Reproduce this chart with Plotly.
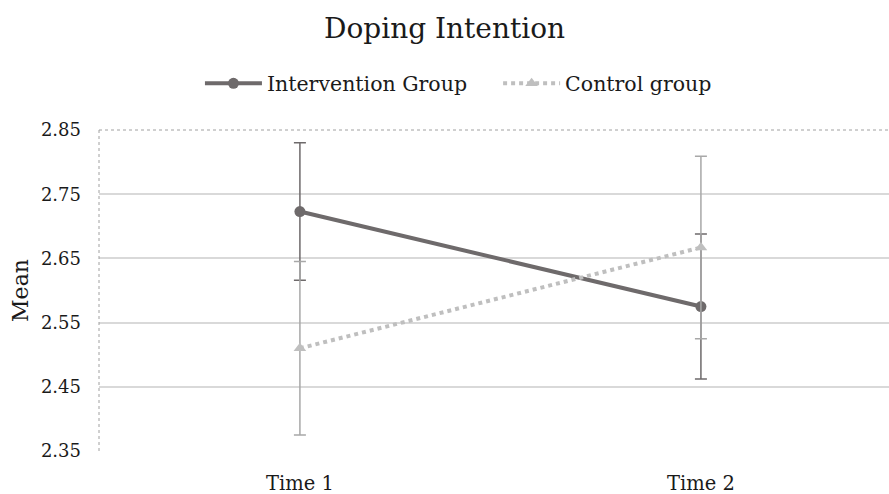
import plotly.graph_objects as go

# Mean doping intention with error bars, by measurement time
times = ["Time 1", "Time 2"]
intervention_mean = [2.723, 2.575]
intervention_err = [0.107, 0.113]
control_mean = [2.510, 2.667]
control_err = [0.135, 0.142]
y_ticks = [2.35, 2.45, 2.55, 2.65, 2.75, 2.85]

FONT = "DejaVu Serif"
DARK = "#6e6a6b"
LIGHT = "#bfbfbf"

fig = go.Figure()

fig.add_trace(go.Scatter(
    x=times, y=intervention_mean, name="Intervention Group\u00a0\u00a0\u00a0\u00a0",
    mode="lines+markers",
    line=dict(color=DARK, width=4),
    marker=dict(symbol="circle", size=11, color=DARK),
    error_y=dict(type="data", array=intervention_err, color=DARK,
                 thickness=1.5, width=6),
))

fig.add_trace(go.Scatter(
    x=times, y=control_mean, name="Control group",
    mode="lines+markers",
    line=dict(color=LIGHT, width=4, dash="dot"),
    marker=dict(symbol="triangle-up", size=11, color=LIGHT),
    error_y=dict(type="data", array=control_err, color="#a8a8a8",
                 thickness=1.5, width=6),
))

# dotted frame along top and left edges of the plot area
for x0, y0, x1, y1 in [(0, 1, 1, 1), (0, 0, 0, 1)]:
    fig.add_shape(type="line", xref="paper", yref="paper",
                  x0=x0, y0=y0, x1=x1, y1=y1,
                  line=dict(color="#a0a0a0", width=1, dash="dot"))

fig.update_layout(
    width=889, height=494,
    margin=dict(l=99, r=0, t=130, b=43),
    paper_bgcolor="white", plot_bgcolor="white",
    font=dict(family=FONT, color="#1a1a1a"),
    title=dict(text="Doping Intention", x=0.5, xanchor="center",
               y=0.942, yanchor="middle", font=dict(size=28, family=FONT)),
    legend=dict(orientation="h", x=0.455, xanchor="center", y=1.145,
                yanchor="middle", font=dict(size=20.5, family=FONT),
                itemwidth=57, traceorder="normal"),
    xaxis=dict(range=[-0.501, 1.469], showgrid=False, zeroline=False,
               showline=False, ticks="", ticklabelstandoff=18,
               tickfont=dict(size=19.5, family=FONT)),
    yaxis=dict(range=[2.35, 2.85], tickvals=y_ticks,
               ticktext=[f"{v:.2f}" for v in y_ticks],
               showgrid=True, gridcolor="#d9d9d9", gridwidth=1.5,
               zeroline=False, showline=False, ticks="",
               ticklabelstandoff=17,
               tickfont=dict(size=18, family=FONT),
               title=dict(text="Mean", font=dict(size=22, family=FONT),
                          standoff=6)),
    showlegend=True,
)

fig.write_html("out.html")
